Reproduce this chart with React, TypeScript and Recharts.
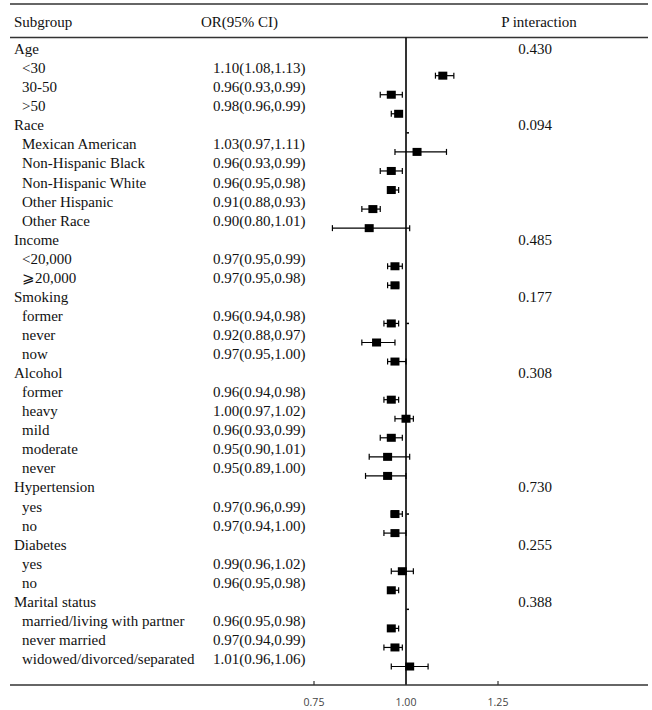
import React from 'react';
import { ComposedChart, Scatter, XAxis, YAxis, ErrorBar, ReferenceLine } from 'recharts';

// subgroup table
const GROUPS = ['Age', 'Race', 'Income', 'Smoking', 'Alcohol', 'Hypertension', 'Diabetes', 'Marital status'];
const P_INTERACTION = ['0.430', '0.094', '0.485', '0.177', '0.308', '0.730', '0.255', '0.388'];
const LEVELS = [
  ['<30', '30-50', '>50'],
  ['Mexican American', 'Non-Hispanic Black', 'Non-Hispanic White', 'Other Hispanic', 'Other Race'],
  ['<20,000', '⩾20,000'],
  ['former', 'never', 'now'],
  ['former', 'heavy', 'mild', 'moderate', 'never'],
  ['yes', 'no'],
  ['yes', 'no'],
  ['married/living with partner', 'never married', 'widowed/divorced/separated'],
];
const OR = [
  [1.1, 0.96, 0.98],
  [1.03, 0.96, 0.96, 0.91, 0.9],
  [0.97, 0.97],
  [0.96, 0.92, 0.97],
  [0.96, 1.0, 0.96, 0.95, 0.95],
  [0.97, 0.97],
  [0.99, 0.96],
  [0.96, 0.97, 1.01],
];
const CI_LOW = [
  [1.08, 0.93, 0.96],
  [0.97, 0.93, 0.95, 0.88, 0.8],
  [0.95, 0.95],
  [0.94, 0.88, 0.95],
  [0.94, 0.97, 0.93, 0.9, 0.89],
  [0.96, 0.94],
  [0.96, 0.95],
  [0.95, 0.94, 0.96],
];
const CI_HIGH = [
  [1.13, 0.99, 0.99],
  [1.11, 0.99, 0.98, 0.93, 1.01],
  [0.99, 0.98],
  [0.98, 0.97, 1.0],
  [0.98, 1.02, 0.99, 1.01, 1.0],
  [0.99, 1.0],
  [1.02, 0.98],
  [0.98, 0.99, 1.06],
];
const X_TICKS = [0.75, 1.0, 1.25];
// little marks next to the null line seen in the original
const STUB_ROWS = [4, 14, 24, 29];

// axis ranges (row index on y, OR on x), tuned to the page layout
const X_MIN = -0.0761;
const X_MAX = 1.6576;
const Y_MIN = -2.76;
const Y_MAX = 32.97;
const HEADER_ROW = -1.4;

type Row = { label: string; header: boolean; text?: string; p?: string };

const rows: Row[] = [];
const points: { x: number; y: number; err: number[] }[] = [];
GROUPS.forEach((g, gi) => {
  rows.push({ label: g, header: true, p: P_INTERACTION[gi] });
  LEVELS[gi].forEach((lv, li) => {
    const or = OR[gi][li];
    const lo = CI_LOW[gi][li];
    const hi = CI_HIGH[gi][li];
    points.push({ x: or, y: rows.length, err: [or - lo, hi - or] });
    rows.push({ label: lv, header: false, text: `${or.toFixed(2)}(${lo.toFixed(2)},${hi.toFixed(2)})` });
  });
});
const stubs = STUB_ROWS.map((r) => ({ x: 1, y: r }));

const SERIF = '"Liberation Serif", "Times New Roman", serif';
const TXT = '#111';

const RowLabel = (props: any) => {
  const { y, payload } = props;
  const base = y - 2.5;
  if (payload.value === HEADER_ROW) {
    return (
      <g fontFamily={SERIF} fontSize={15} fill={TXT}>
        <text x={14} y={base}>Subgroup</text>
        <text x={201} y={base}>OR(95% CI)</text>
        <text x={539} y={base} textAnchor="middle">P interaction</text>
      </g>
    );
  }
  const row = rows[payload.value];
  if (!row) return null;
  return (
    <g fontFamily={SERIF} fontSize={15} fill={TXT}>
      <text x={row.header ? 14 : 22} y={base}>{row.label}</text>
      {row.text && <text x={213} y={base}>{row.text}</text>}
      {row.p && <text x={535} y={base} textAnchor="middle">{row.p}</text>}
    </g>
  );
};

const XTick = (props: any) => {
  const { x, y, payload } = props;
  return (
    <g>
      <line x1={x} x2={x} y1={y - 4} y2={y} stroke="#333" strokeWidth={1.2} />
      <text x={x} y={y + 21} textAnchor="middle" fontFamily='"Open Sans", sans-serif' fontSize={10.5} fill="#444">
        {payload.value.toFixed(2)}
      </text>
    </g>
  );
};

const Square = (props: any) => (
  <rect x={props.cx - 4.5} y={props.cy - 4} width={9} height={8} fill="#000" />
);

const Stub = (props: any) => (
  <rect x={props.cx + 0.5} y={props.cy - 0.75} width={2.5} height={1.5} fill="#000" />
);

const App: React.FC = () => {
  const yTicks = [HEADER_ROW, ...rows.map((_, i) => i)];
  return (
    <div style={{ position: 'absolute', left: 0, top: 0, background: '#fff' }}>
      <ComposedChart width={652} height={710} margin={{ top: 4, right: 4, left: 9, bottom: 0 }}>
        <XAxis
          type="number"
          dataKey="x"
          domain={[X_MIN, X_MAX]}
          ticks={X_TICKS}
          allowDataOverflow
          height={25}
          tickSize={0}
          tickMargin={0}
          tickLine={false}
          axisLine={{ stroke: '#333', strokeWidth: 1.6 }}
          tick={<XTick />}
          interval={0}
        />
        <YAxis
          type="number"
          dataKey="y"
          domain={[Y_MIN, Y_MAX]}
          reversed
          allowDataOverflow
          ticks={yTicks}
          interval={0}
          width={1}
          tickSize={0}
          tickMargin={0}
          axisLine={false}
          tickLine={false}
          tick={<RowLabel />}
        />
        <ReferenceLine y={Y_MIN} stroke="#333" strokeWidth={1.6} ifOverflow="visible" />
        <ReferenceLine y={-1} stroke="#333" strokeWidth={1.6} />
        <ReferenceLine
          segment={[{ x: 1, y: -1 }, { x: 1, y: Y_MAX }]}
          stroke="#000"
          strokeWidth={1.6}
        />
        <Scatter data={stubs} shape={<Stub />} isAnimationActive={false} />
        <Scatter data={points} shape={<Square />} isAnimationActive={false}>
          <ErrorBar dataKey="err" direction="x" width={3} stroke="#000" strokeWidth={1.2} />
        </Scatter>
      </ComposedChart>
    </div>
  );
};

export default App;
